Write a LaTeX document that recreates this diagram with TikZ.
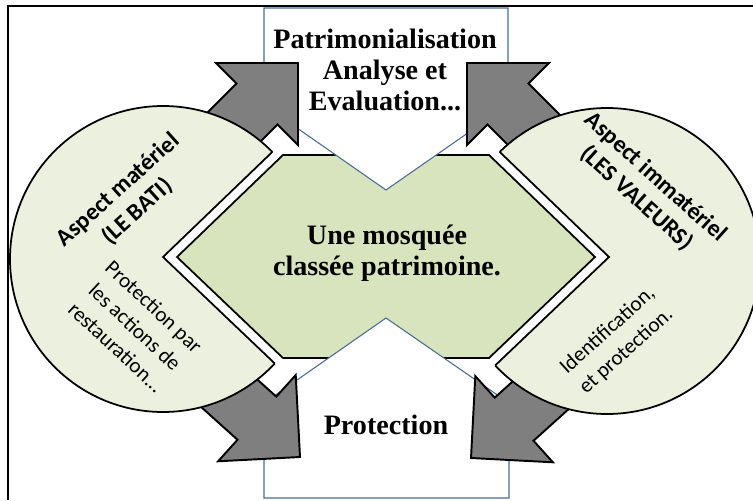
\documentclass[tikz,border=0pt]{standalone}
\usepackage{fontspec}
\setmainfont{Liberation Serif}
\newfontfamily\calibrifont{Carlito}
\usetikzlibrary{positioning}
\definecolor{mqPale}{HTML}{EBF1DE}
\definecolor{mqOlive}{HTML}{D7E4BD}
\definecolor{mqGray}{HTML}{7F7F7F}
\definecolor{mqBlue}{HTML}{4A6A94}
\newcommand{\bigbold}{\fontsize{16}{17.6}\selectfont\bfseries}
\newcommand{\sidebold}{\calibrifont\fontsize{13.6}{16.4}\selectfont\bfseries}
\newcommand{\sidetext}{\calibrifont\fontsize{12.1}{15.8}\selectfont}

\begin{document}
\begin{tikzpicture}[x=0.02cm,y=-0.02cm,
  outline/.style={draw=black,line width=1pt},
  blockarrow/.style={fill=mqGray,draw=black,line width=1.1pt,line join=miter},
  textbox/.style={fill=white,draw=mqBlue,line width=0.6pt}]
  \useasboundingbox (0,0) rectangle (753,500);
  % frame, cut at right and bottom
  \draw[line width=1.2pt] (8,500) -- (8,6) -- (753,6);
  % hexagon corners
  \coordinate (hL) at (177,257);
  \coordinate (hTL) at (283,155);
  \coordinate (hTR) at (489,155);
  \coordinate (hR) at (595,257);
  \coordinate (hBR) at (489,358);
  \coordinate (hBL) at (283,358);
  % band around the hexagon
  \coordinate (oL) at (163,257);
  \coordinate (oTL) at (279,145.5);
  \coordinate (oTR) at (493,145.5);
  \coordinate (oR) at (609,257);
  \coordinate (oBR) at (493,367.5);
  \coordinate (oBL) at (279,367.5);
  \filldraw[outline,fill=mqOlive] (hL) -- (hTL) -- (hTR) -- (hR) -- (hBR) -- (hBL) -- cycle;
  % the two white boxes
  \filldraw[textbox] (264,8) -- (508,8) -- (508,105) -- (386,190) -- (264,105) -- cycle;
  \filldraw[textbox] (264,498) -- (264,403) -- (386,318) -- (509,403) -- (509,498) -- cycle;
  % block arrows
  \foreach \tx/\ty/\ang in {298/63/45,467/63/135,300/457/-42,471/458/222}
    \filldraw[blockarrow,shift={(\tx,\ty)},rotate=\ang]
      (0,0) -- (-58,-58) -- (-58,-29) -- (-150,-29) -- (-150,29) -- (-58,29) -- (-58,58) -- cycle;
  % discs with the wedge cut out
  \begin{scope}
    \clip (-10,257) -- (-10,-20) -- (780,-20) -- (780,520) -- (-10,520) -- (-10,257)
      -- (oL) -- (oBL) -- (oBR) -- (oR) -- (oTR) -- (oTL) -- (oL) -- cycle;
    \filldraw[outline,fill=mqPale] (163,259) circle[radius=153];
    \filldraw[outline,fill=mqPale] (607,261) circle[radius=153];
  \end{scope}
  \begin{scope}
    \clip (163,259) circle[radius=153] (607,261) circle[radius=153];
    \draw[outline] (oL) -- (oBL) -- (oBR) -- (oR) -- (oTR) -- (oTL) -- cycle;
  \end{scope}
  % texts
  \node[font=\bigbold,align=center] (patri) at (385,70) {Patrimonialisation\\Analyse et\\Evaluation...};
  \node[font=\bigbold,align=center] (mosq) at (387,253) {Une mosquée\\classée patrimoine.};
  \node[font=\bigbold] (prot) at (386,425) {Protection};
  \node[font=\sidebold,align=center,rotate=42] (bati) at (128,201) {Aspect matériel\\(LE BATI)};
  \node[font=\sidetext,align=center,rotate=-43] (resto) at (135,327) {Protection par\\les actions de\\restauration...};
  \node[font=\sidebold,align=center,rotate=-42] (valeurs) at (646,188) {Aspect immatériel\\(LES VALEURS)};
  \node[font=\sidetext,align=center,rotate=42] (ident) at (617,341) {Identification,\\et protection.};
\end{tikzpicture}
\end{document}
